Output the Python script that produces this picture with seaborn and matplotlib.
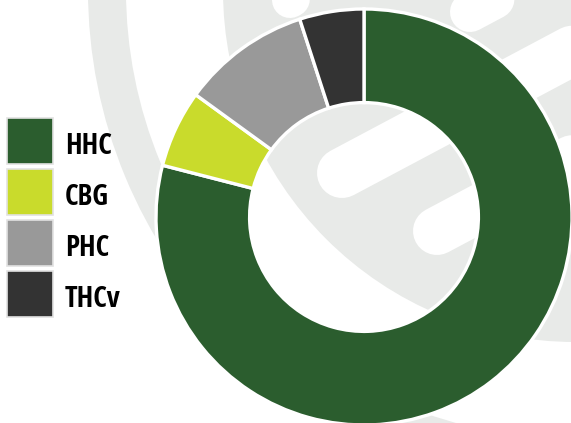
import numpy as np
import matplotlib
matplotlib.use("Agg")
import matplotlib.pyplot as plt
import matplotlib.patches as mpatches
from matplotlib.legend_handler import HandlerPatch
from matplotlib import font_manager as fm
import seaborn as sns

# cannabinoid share (%)
labels = ["HHC", "CBG", "PHC", "THCv"]
shares = [79, 6, 10, 5]
colors = ["#2b5d2e", "#c9db2c", "#999999", "#333333"]

sns.set_theme(style="white")
plt.rcParams["font.family"] = ["DejaVu Sans"]


def pick_label_font():
    # a bold (semi-)condensed face is closest to the original labels
    best, best_score = None, -99
    for f in fm.fontManager.ttflist:
        nm, path = f.name.lower(), f.fname.lower()
        st = str(f.stretch)
        cond = ("condensed" in nm or "narrow" in nm or "condensed" in path
                or "narrow" in path or "condensed" in st)
        if not cond:
            continue
        w = f.weight if isinstance(f.weight, int) else fm.weight_dict.get(f.weight, 400)
        if w < 600 or "italic" in path or f.style != "normal":
            continue
        score = 0
        if "open sans" in nm or "opensans" in path:
            score += 10
        if "semi" in path or "semi" in st or "semi" in nm:
            score += 3
        score -= abs(w - 700) / 100
        if score > best_score:
            best, best_score = f, score
    if best is None:
        return fm.FontProperties(family="DejaVu Sans", weight="bold", stretch="condensed")
    return fm.FontProperties(fname=best.fname)


W, H, DPI = 571, 423, 100
fig = plt.figure(figsize=(W / DPI, H / DPI), dpi=DPI)
fig.patch.set_facecolor("white")

# faint logo watermark behind the chart (pixel coordinates)
bg = fig.add_axes([0, 0, 1, 1], zorder=0)
bg.set_xlim(0, W)
bg.set_ylim(H, 0)
bg.axis("off")
wm = "#e8eae8"
bg.add_patch(mpatches.Annulus((575, -10), 487, 38, color=wm, lw=0))
bg.add_patch(mpatches.Circle((575, -10), 352, color=wm, lw=0))
ang = np.deg2rad(28)
d = np.array([np.cos(ang), -np.sin(ang)])
for (x0, y0), w in [((290, 0), 36), ((470, 12), 40), ((342, 173), 50), ((437, 231), 48)]:
    x1, y1 = np.array([x0, y0]) + 500 * d
    bg.plot([x0, x1], [y0, y1], color="white", lw=w * 72 / DPI,
            solid_capstyle="round")

# donut
R, cx, cy = 208, 364, 217
ax = fig.add_axes([(cx - R) / W, (H - cy - R) / H, 2 * R / W, 2 * R / H], zorder=1)
ax.patch.set_alpha(0)
pal = sns.color_palette(colors)
ax.pie(shares, colors=pal, startangle=90, counterclock=False, radius=1,
       wedgeprops=dict(width=0.45, edgecolor="white", linewidth=2.4))
ax.set_xlim(-1, 1)
ax.set_ylim(-1, 1)
ax.set_aspect("equal")
ax.axis("off")

# legend: big squares, labels sitting a little low against them
fs = 21
prop = pick_label_font()
prop.set_size(fs)
prop.set_weight("bold")
lift = 3.8 * 72 / DPI


def square(legend, orig_handle, xdescent, ydescent, width, height, fontsize):
    return mpatches.Rectangle((-xdescent, -ydescent + lift), width, height)


handles = [mpatches.Patch(facecolor=c, edgecolor="#e2e2e2", linewidth=1.2) for c in pal]
leg = fig.legend(handles, labels, loc="upper left",
                 bbox_to_anchor=(7 / W, 1 - 122 / H), bbox_transform=fig.transFigure,
                 frameon=False, handlelength=1.577, handleheight=2.049,
                 labelspacing=0.171, handletextpad=0.41, borderpad=0, borderaxespad=0,
                 prop=prop, handler_map={mpatches.Patch: HandlerPatch(patch_func=square)})
for t in leg.get_texts():
    t.set_color("black")

fig.savefig("out.png", dpi=DPI)
